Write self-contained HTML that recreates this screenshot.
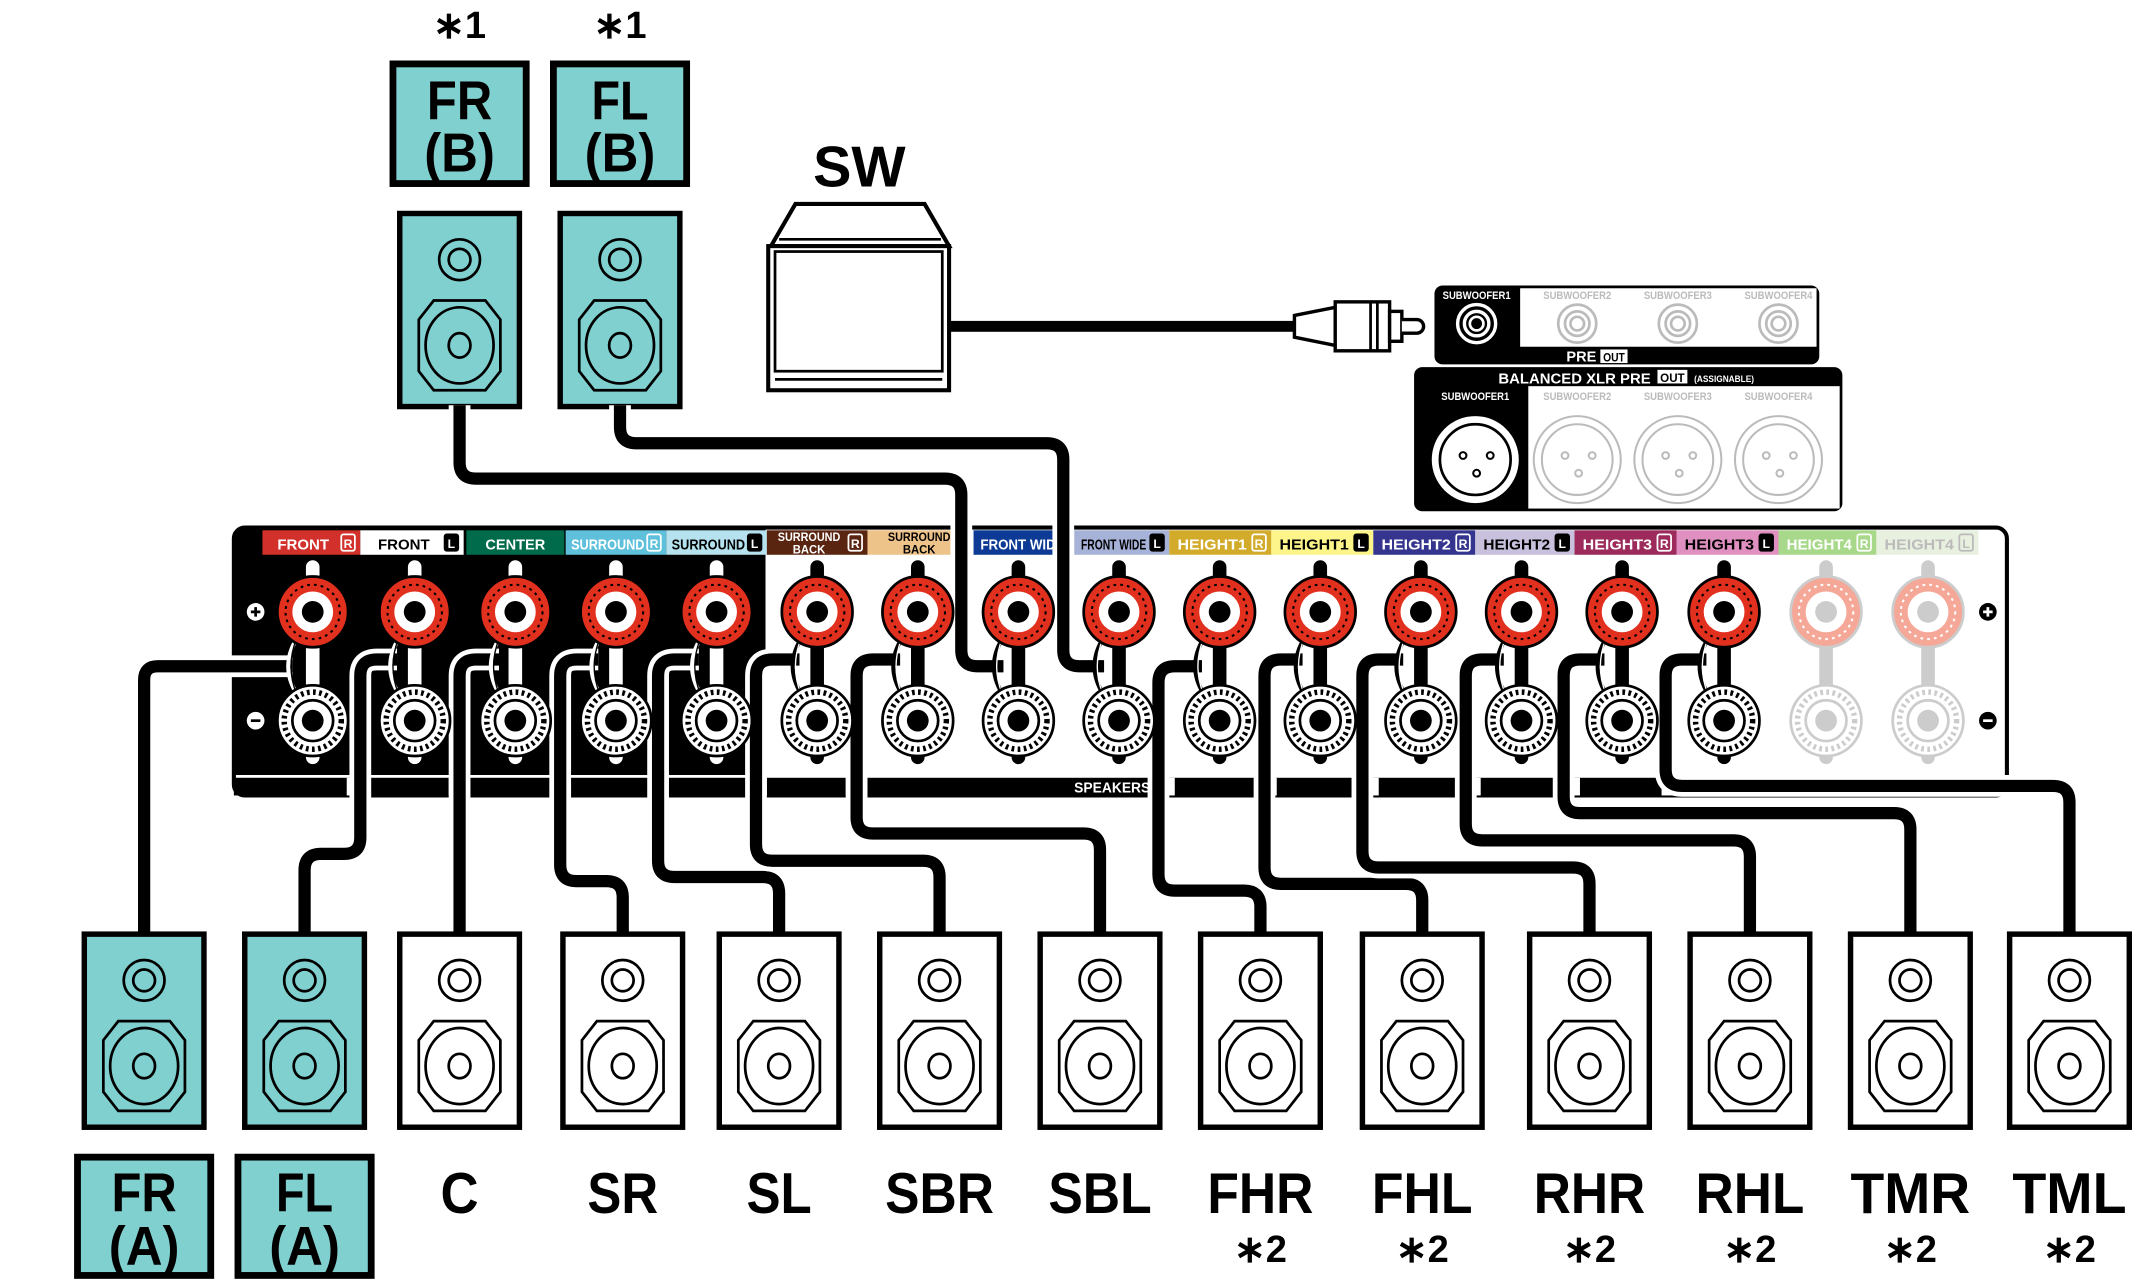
<!DOCTYPE html>
<html><head><meta charset="utf-8"><style>
html,body{margin:0;padding:0;background:#fff;}
svg{display:block;}
text{font-family:"Liberation Sans Narrow","Liberation Sans",sans-serif;font-weight:bold;}
</style></head><body>
<div id="root"></div>
<script>
var T="#80d0d0";
var s=[];
function tx(x,y,fs,str,fill,w,extra){
  var tl=w?' textLength="'+w+'" lengthAdjust="spacingAndGlyphs"':'';
  s.push('<text x="'+x+'" y="'+y+'" font-size="'+fs+'" fill="'+(fill||"#000")+'" text-anchor="middle"'+tl+(extra||'')+'>'+str+'</text>');
}
function sp(cx,y,fill){
  var x=cx-44;
  s.push('<rect x="'+x+'" y="'+y+'" width="88" height="142" fill="'+fill+'" stroke="#000" stroke-width="4"/>');
  s.push('<circle cx="'+cx+'" cy="'+(y+34)+'" r="15" fill="none" stroke="#000" stroke-width="2"/>');
  s.push('<circle cx="'+cx+'" cy="'+(y+34)+'" r="8" fill="none" stroke="#000" stroke-width="2"/>');
  s.push('<path d="M'+(cx-19)+' '+(y+64)+' H'+(cx+19)+' L'+(cx+30)+' '+(y+78)+' V'+(y+116)+' L'+(cx+19)+' '+(y+130)+' H'+(cx-19)+' L'+(cx-30)+' '+(y+116)+' V'+(y+78)+' Z" fill="none" stroke="#000" stroke-width="2"/>');
  s.push('<ellipse cx="'+cx+'" cy="'+(y+97)+'" rx="25" ry="28" fill="none" stroke="#000" stroke-width="2"/>');
  s.push('<ellipse cx="'+cx+'" cy="'+(y+97)+'" rx="8" ry="9" fill="none" stroke="#000" stroke-width="2"/>');
}
function wire(d){
  s.push('<path d="'+d+'" fill="none" stroke="#fff" stroke-width="16" stroke-linejoin="round"/>');
  s.push('<path d="'+d+'" fill="none" stroke="#000" stroke-width="9" stroke-linejoin="round"/>');
}
tx(338,28,28,"∗1","#000",null,' font-weight="normal"');
tx(456,28,28,"∗1","#000",null,' font-weight="normal"');
[[338,'FR'],[456,'FL']].forEach(function(a){
  s.push('<rect x="'+(a[0]-49)+'" y="47" width="98" height="88" fill="'+T+'" stroke="#000" stroke-width="5"/>');
  tx(a[0],88,40,a[1],"#000",a[1]=='FR'?48:42);
  tx(a[0],126,40,"(B)","#000",52);
});
sp(338,157,T); sp(456,157,T);
tx(632,137,42,"SW","#000",68);
s.push('<path d="M567 181 L585 150 H680 L698 181 Z" fill="#fff" stroke="#000" stroke-width="3"/>');
s.push('<line x1="573" y1="176" x2="692" y2="176" stroke="#000" stroke-width="2"/>');
s.push('<rect x="565" y="181" width="133" height="106" fill="#fff" stroke="#000" stroke-width="3"/>');
s.push('<rect x="570" y="185" width="123" height="88" fill="none" stroke="#000" stroke-width="2"/>');
s.push('<line x1="570" y1="279" x2="693" y2="279" stroke="#000" stroke-width="2"/>');
s.push('<rect x="698" y="236" width="255" height="8" fill="#000"/>');
s.push('<path d="M952 232 L982 226 V254 L952 248 Z" fill="#fff" stroke="#000" stroke-width="2.5"/>');
s.push('<rect x="982" y="222" width="40" height="36" fill="#fff" stroke="#000" stroke-width="2.5"/>');
s.push('<line x1="1008" y1="222" x2="1008" y2="258" stroke="#000" stroke-width="2"/><line x1="1013" y1="222" x2="1013" y2="258" stroke="#000" stroke-width="2"/>');
s.push('<rect x="1022" y="229" width="9" height="22" fill="#fff" stroke="#000" stroke-width="2.5"/>');
s.push('<path d="M1031 235 H1042 A5 5 0 0 1 1042 245 H1031" fill="#fff" stroke="#000" stroke-width="2.5"/>');
s.push('<rect x="1055" y="210" width="283" height="58" rx="6" fill="#000"/>');
s.push('<rect x="1118" y="212" width="218" height="43" fill="#fff"/>');
tx(1086,220,8,"SUBWOOFER1","#fff",50);
s.push('<circle cx="1086" cy="238" r="14" fill="none" stroke="#fff" stroke-width="2.5"/><circle cx="1086" cy="238" r="9" fill="none" stroke="#fff" stroke-width="2.5"/><circle cx="1086" cy="238" r="5" fill="none" stroke="#fff" stroke-width="2"/>');
[1160,1234,1308].forEach(function(x,i){
  tx(x,220,8,"SUBWOOFER"+(i+2),"#bbb",50);
  s.push('<circle cx="'+x+'" cy="238" r="14" fill="none" stroke="#bbb" stroke-width="2"/><circle cx="'+x+'" cy="238" r="9" fill="none" stroke="#bbb" stroke-width="2"/><circle cx="'+x+'" cy="238" r="5" fill="none" stroke="#bbb" stroke-width="2"/>');
});
tx(1163,266,11,"PRE","#fff",22);
s.push('<rect x="1177" y="257" width="20" height="10" fill="#fff"/>');tx(1187,266,9,"OUT","#000",16);
s.push('<rect x="1040" y="270" width="315" height="106" rx="6" fill="#000"/>');
s.push('<rect x="1124" y="284" width="229" height="90" fill="#fff"/>');
tx(1158,282,11,"BALANCED XLR PRE","#fff",112);
s.push('<rect x="1219" y="272" width="22" height="10" fill="#fff"/>');tx(1230,281,9,"OUT","#000",18);tx(1268,281,7,"(ASSIGNABLE)","#fff",44);
tx(1085,294,8,"SUBWOOFER1","#fff",50);
s.push('<circle cx="1085" cy="338" r="32" fill="#fff"/><circle cx="1085" cy="338" r="26" fill="none" stroke="#000" stroke-width="2"/>');
s.push('<circle cx="1076" cy="335" r="2.5" fill="none" stroke="#000" stroke-width="1.5"/><circle cx="1096" cy="335" r="2.5" fill="none" stroke="#000" stroke-width="1.5"/><circle cx="1086" cy="348" r="2.5" fill="none" stroke="#000" stroke-width="1.5"/>');
[1160,1234,1308].forEach(function(x,i){
  tx(x,294,8,"SUBWOOFER"+(i+2),"#bbb",50);
  s.push('<circle cx="'+x+'" cy="338" r="32" fill="none" stroke="#bbb" stroke-width="1.5"/><circle cx="'+x+'" cy="338" r="26" fill="none" stroke="#bbb" stroke-width="1.5"/>');
  s.push('<circle cx="'+(x-9)+'" cy="335" r="2.5" fill="none" stroke="#bbb" stroke-width="1.5"/><circle cx="'+(x+11)+'" cy="335" r="2.5" fill="none" stroke="#bbb" stroke-width="1.5"/><circle cx="'+(x+1)+'" cy="348" r="2.5" fill="none" stroke="#bbb" stroke-width="1.5"/>');
});
s.push('<rect x="172" y="388" width="1304" height="197" rx="8" fill="#fff" stroke="#000" stroke-width="3"/>');
s.push('<path d="M180 388 H563 V570 H172 V396 Q172 388 180 388 Z" fill="#000"/>');
s.push('<rect x="172" y="572" width="1304" height="13" fill="#000"/>');
var L=[[193,265,"#d2302a","#fff","FRONT","R"],[265,341,"#fff","#000","FRONT","L"],[343,415,"#006b4a","#fff","CENTER",""],[416,490,"#5fc0dc","#fff","SURROUND","R"],[490,564,"#b5e2ee","#000","SURROUND","L"],[564,638,"#5a2510","#fff","SB","R"],[638,714,"#eec38a","#000","SB",""],[716,788,"#0c3a94","#fff","FRONT WIDE",""],[790,860,"#a6b2d8","#000","FRONT WIDE","L"],[860,935,"#d2ab2b","#fff","HEIGHT1","R"],[935,1010,"#fdf48a","#000","HEIGHT1","L"],[1010,1085,"#35358f","#fff","HEIGHT2","R"],[1085,1158,"#c8c0dc","#000","HEIGHT2","L"],[1158,1233,"#9c2a5a","#fff","HEIGHT3","R"],[1233,1308,"#e090c0","#000","HEIGHT3","L"],[1308,1380,"#a8d88a","#fff","HEIGHT4","R"],[1380,1455,"#e8f0e0","#bbb","HEIGHT4","L"]];
L.forEach(function(l){
  var w=l[1]-l[0];
  s.push('<rect x="'+l[0]+'" y="390" width="'+w+'" height="18" fill="'+l[2]+'"/>');
  var hasB=l[5]!="";
  var tw=hasB?w-18:w-6;
  var cx=hasB?l[0]+3+tw/2:(l[0]+l[1])/2;
  if(l[4]=="SB"){
    tx(cx,398,8.5,"SURROUND",l[3],Math.min(tw-4,46));tx(cx,407,8.5,"BACK",l[3],24);
  } else {
    var tl={"FRONT":38,"CENTER":44,"SURROUND":tw-2,"FRONT WIDE":tw-4,"HEIGHT1":tw-6,"HEIGHT2":tw-6,"HEIGHT3":tw-6,"HEIGHT4":tw-6}[l[4]];
    if(l[4]=="FRONT") cx=l[0]+6+19+ (w-18-44)/2;
    tx(cx,404,11,l[4],l[3],tl);
  }
  if(hasB){
    var bx=l[1]-14;
    var dark=l[3]=="#000";
    s.push('<rect x="'+bx+'" y="393" width="10" height="12" rx="1.5" fill="'+(dark?"#000":"none")+'" stroke="'+l[3]+'" stroke-width="1.3"/>');
    tx(bx+5,403,9,l[5],dark?"#fff":l[3]);
  }
});
s.push('<circle cx="188" cy="450" r="6.5" fill="#fff"/><path d="M184.5 450 H191.5 M188 446.5 V453.5" stroke="#000" stroke-width="2"/>');
s.push('<circle cx="188" cy="530" r="6.5" fill="#fff"/><path d="M184.5 530 H191.5" stroke="#000" stroke-width="2"/>');
s.push('<circle cx="1462" cy="450" r="6.5" fill="#000"/><path d="M1458.5 450 H1465.5 M1462 446.5 V453.5" stroke="#fff" stroke-width="2"/>');
s.push('<circle cx="1462" cy="530" r="6.5" fill="#000"/><path d="M1458.5 530 H1465.5" stroke="#fff" stroke-width="2"/>');
tx(818,583,11,"SPEAKERS","#fff",56);
[255,330,405,477,550,622,850,925,1000,1075,1148,1222].forEach(function(x){s.push('<rect x="'+x+'" y="572" width="14" height="13" fill="#fff"/>');});
wire("M338 298 V340 Q338 352 350 352 H695 Q707 352 707 364 V478 Q707 490 719 490 H738");
wire("M456 298 V314 Q456 326 468 326 H770 Q782 326 782 338 V478 Q782 490 794 490 H812");
wire("M106 687 V500 Q106 490 116 490 H215");
wire("M224 687 V640 Q224 628 236 628 H253 Q265 628 265 616 V497 Q265 485 277 485 H292");
wire("M338 687 V497 Q338 485 350 485 H367");
wire("M458 687 V660 Q458 648 446 648 H424 Q412 648 412 636 V497 Q412 485 424 485 H440");
wire("M573 687 V657 Q573 645 561 645 H496 Q484 645 484 633 V497 Q484 485 496 485 H514");
wire("M691 687 V645 Q691 633 679 633 H568 Q556 633 556 621 V497 Q556 485 568 485 H588");
wire("M809 687 V625 Q809 613 797 613 H642 Q630 613 630 601 V497 Q630 485 642 485 H662");
wire("M927 687 V667 Q927 655 915 655 H864 Q852 655 852 643 V502 Q852 490 864 490 H884");
wire("M1046 687 V662 Q1046 650 1034 650 H942 Q930 650 930 638 V497 Q930 485 942 485 H958");
wire("M1169 687 V650 Q1169 638 1157 638 H1014 Q1002 638 1002 626 V497 Q1002 485 1014 485 H1032");
wire("M1287 687 V630 Q1287 618 1275 618 H1090 Q1078 618 1078 606 V497 Q1078 485 1090 485 H1106");
wire("M1405 687 V610 Q1405 598 1393 598 H1162 Q1150 598 1150 586 V497 Q1150 485 1162 485 H1180");
wire("M1522 687 V590 Q1522 578 1510 578 H1237 Q1225 578 1225 566 V497 Q1225 485 1237 485 H1255");
var X=[230,305,379,453,527,601,675,749,823,897,971,1045,1119,1193,1268,1343,1418];
X.forEach(function(x,i){
  var g=i>=15;
  var post=g?"#ccc":(x<560?"#fff":"#000");
  s.push('<rect x="'+(x-5)+'" y="412" width="10" height="150" rx="5" fill="'+post+'"/>');
  if(!g) s.push('<path d="M'+(x-12)+' 470 Q'+(x-24)+' 490 '+(x-12)+' 510" fill="none" stroke="'+(x<560?"#fff":"#000")+'" stroke-width="3"/><path d="M'+(x-12)+' 470 Q'+(x-20)+' 490 '+(x-12)+' 510" fill="none" stroke="'+(x<560?"#000":"#fff")+'" stroke-width="1"/>');
  s.push('<circle cx="'+x+'" cy="450" r="26" fill="'+(g?"#f5a898":"#e2301e")+'" stroke="'+(g?"#ccc":"#000")+'" stroke-width="2"/>');
  s.push('<circle cx="'+x+'" cy="450" r="20" fill="none" stroke="'+(g?"#fff":"#000")+'" stroke-width="1.5" stroke-dasharray="2 3"/>');
  s.push('<circle cx="'+x+'" cy="450" r="15" fill="#fff"/>');
  s.push('<circle cx="'+x+'" cy="450" r="8" fill="'+(g?"#ccc":"#000")+'"/>');
  var c=g?"#ccc":"#000";
  s.push('<circle cx="'+x+'" cy="530" r="26" fill="#fff" stroke="'+c+'" stroke-width="2"/>');
  s.push('<circle cx="'+x+'" cy="530" r="21" fill="none" stroke="'+c+'" stroke-width="4" stroke-dasharray="2 2.5"/>');
  s.push('<circle cx="'+x+'" cy="530" r="15" fill="#fff" stroke="'+c+'" stroke-width="2"/>');
  s.push('<circle cx="'+x+'" cy="530" r="8" fill="'+c+'"/>');
});
var B=[[106,'FR',1],[224,'FL',1],[338,'C',0,28],[458,'SR',0,52],[573,'SL',0,48],[691,'SBR',0,80],[809,'SBL',0,76],[927,'FHR',2,78],[1046,'FHL',2,74],[1169,'RHR',2,82],[1287,'RHL',2,80],[1405,'TMR',2,88],[1522,'TML',2,84]];
B.forEach(function(b){
  sp(b[0],687,b[2]==1?T:"#fff");
  if(b[2]==1){
    s.push('<rect x="'+(b[0]-49)+'" y="851" width="98" height="87" fill="'+T+'" stroke="#000" stroke-width="5"/>');
    tx(b[0],891,40,b[1],"#000",b[1]=='FR'?48:42);
    tx(b[0],930,40,"(A)","#000",52);
  } else {
    tx(b[0],892,42,b[1],"#000",b[3]);
    if(b[2]==2) tx(b[0],928,28,"∗2","#000",null,' font-weight="normal"');
  }
});
document.getElementById("root").innerHTML='<svg xmlns="http://www.w3.org/2000/svg" width="2132" height="1287" viewBox="0 0 1568 946.5" preserveAspectRatio="none">'+s.join("")+'</svg>';
</script>
</body></html>
